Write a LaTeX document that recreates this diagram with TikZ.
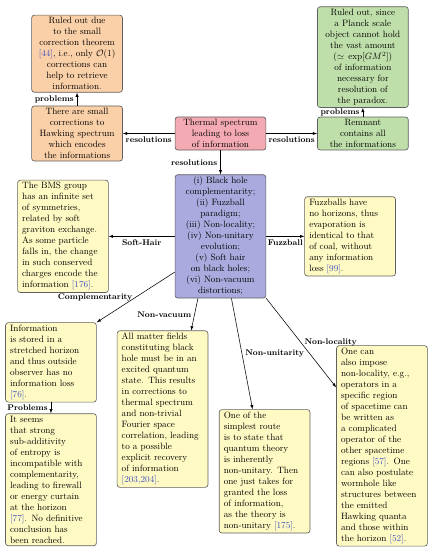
\documentclass[tikz,border=0pt]{standalone}
\usepackage{amsmath}
\usepackage{amssymb}
\usepackage{tikz}
\usetikzlibrary{positioning}

\definecolor{boxline}{RGB}{95,95,95}
\definecolor{peach}{RGB}{250,208,168}
\definecolor{mint}{RGB}{191,223,170}
\definecolor{rose}{RGB}{244,170,178}
\definecolor{lilac}{RGB}{170,170,222}
\definecolor{cream}{RGB}{255,250,195}
\definecolor{citeblue}{RGB}{60,80,190}
\newcommand{\citeno}[1]{\textcolor{citeblue}{[#1]}}

\begin{document}
\begin{tikzpicture}[>=latex,semithick,
  card/.style={draw=boxline,line width=0.7pt,rounded corners=3pt,text width=89pt,inner xsep=5pt,inner ysep=2.5pt},
  mid/.style={card,align=center},
  note/.style={card,align=left,fill=cream},
  tag/.style={font=\small\bfseries}]
\useasboundingbox (-8.447,-15.956) rectangle (8.026,5.114);

\node[mid,fill=rose] (thermal) {Thermal spectrum\\leading to loss\\of information};
\node[mid,fill=lilac,below=0.92cm of thermal] (proposals) {(i) Black hole\\complementarity;\\(ii) Fuzzball\\paradigm;\\(iii) Non-locality;\\(iv) Non-unitary\\evolution;\\(v) Soft hair\\on black holes;\\(vi) Non-vacuum\\distortions;};
\node[mid,fill=peach,left=1.99cm of thermal] (correction) {There are small\\corrections to\\Hawking spectrum\\which encodes\\the informations};
\node[mid,fill=peach,above=0.50cm of correction] (correctionno) {Ruled out due\\to the small\\correction theorem\\\citeno{44}, i.e., only $\mathcal{O}(1)$\\corrections can\\help to retrieve\\information.};
\node[mid,fill=mint,right=1.95cm of thermal] (remnant) {Remnant\\contains all\\the informations};
\node[mid,fill=mint,above=0.34cm of remnant] (remnantno) {Ruled out, since\\a Planck scale\\object cannot hold\\the vast amount\\($\simeq\exp[GM^2]$)\\of information\\necessary for\\resolution of\\the paradox.};

\node[note,left=2.53cm of proposals] (softhair) {The BMS group\\has an infinite set\\of symmetries,\\related by soft\\graviton exchange.\\As some particle\\falls in, the change\\in such conserved\\charges encode the\\information \citeno{176}.};
\node[note,right=1.46cm of proposals] (fuzzball) {Fuzzballs have\\no horizons, thus\\evaporation is\\identical to that\\of coal, without\\any information\\loss \citeno{99}.};
\node[note,below left=0.92cm and 2.99cm of proposals] (complement) {Information\\is stored in a\\stretched horizon\\and thus outside\\observer has no\\information loss\\\citeno{76}.};
\node[note,below=0.42cm of complement] (complementno) {It seems\\that strong\\sub-additivity\\of entropy is\\incompatible with\\complementarity,\\leading to firewall\\or energy curtain\\at the horizon\\\citeno{77}. No definitive\\conclusion has\\been reached.};
\node[note,below=1.23cm of proposals,xshift=-2.22cm] (nonvacuum) {All matter fields\\constituting black\\hole must be in an\\excited quantum\\state. This results\\in corrections to\\thermal spectrum\\and non-trivial\\Fourier space\\correlation, leading\\to a possible\\explicit recovery\\of information\\\citeno{203,204}.};
\node[note,below=4.25cm of proposals,xshift=1.69cm] (nonunitary) {One of the\\simplest route\\is to state that\\quantum theory\\is inherently\\non-unitary. Then\\one just takes for\\granted the loss\\of information,\\as the theory is\\non-unitary \citeno{175}.};
\node[note,below right=1.80cm and 2.68cm of proposals] (nonlocal) {One can\\also impose\\non-locality, e.g.,\\operators in a\\specific region\\of spacetime can\\be written as\\a complicated\\operator of the\\other spacetime\\regions \citeno{57}. One\\can also postulate\\wormhole like\\structures between\\the emitted\\Hawking quanta\\and those within\\the horizon \citeno{52}.};

% resolutions of the paradox
\draw[->] (thermal) -- node[tag,below]{resolutions} (correction);
\draw[->] (thermal) -- node[tag,below]{resolutions} (remnant);
\draw[->] (thermal) -- node[tag,left]{resolutions} (proposals);
\draw[->] (correction) -- node[tag,left]{problems} (correctionno);
\draw[->] (remnant) -- node[tag,left]{problems} (remnantno);

% the proposals
\draw[->] (proposals) -- node[tag,below]{Soft-Hair} (softhair);
\draw[->] (proposals) -- node[tag,below]{Fuzzball} (fuzzball);
\draw[->] (proposals.218) -- node[tag,left]{Complementarity} (complement.north east);
\draw[->] (complement) -- node[tag,left]{Problems} (complementno);
\draw[->] (proposals.250) -- node[tag,left]{Non-vacuum} (nonvacuum.70);
\draw[->] (proposals.280) -- node[tag,right]{Non-unitarity} (nonunitary.101);
\draw[->] (proposals.south east) -- node[tag,right]{Non-locality} (nonlocal.128);
\end{tikzpicture}
\end{document}
